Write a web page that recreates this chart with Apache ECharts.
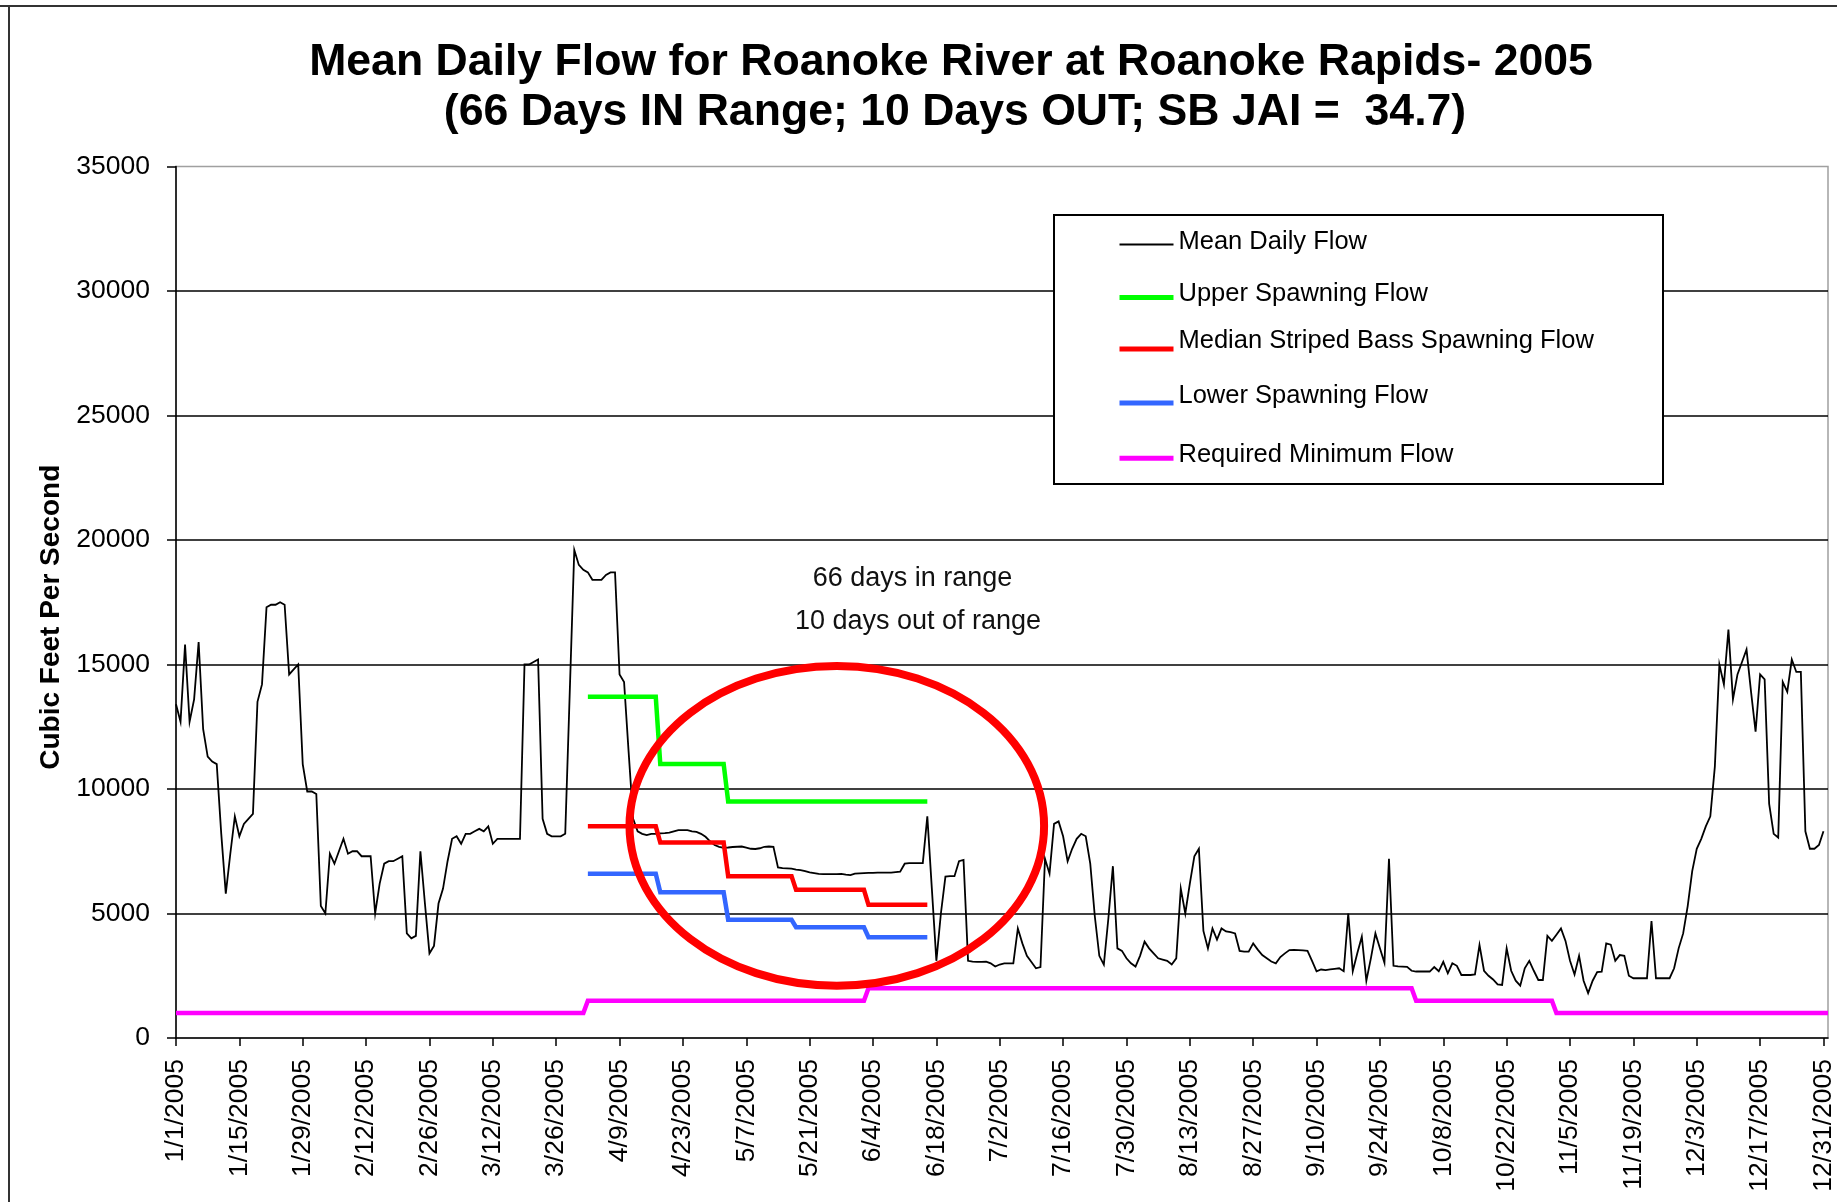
<!DOCTYPE html>
<html>
<head>
<meta charset="utf-8">
<script src="https://cdn.jsdelivr.net/npm/echarts@6/dist/echarts.min.js"></script>
<style>
html,body{margin:0;padding:0;background:#ffffff;}
#chart{width:1837px;height:1202px;}
</style>
</head>
<body>
<div id="chart"></div>
<script>
// ---------------- data ----------------
const titleLines = ['Mean Daily Flow for Roanoke River at Roanoke Rapids- 2005',
                    '(66 Days IN Range; 10 Days OUT; SB JAI =  34.7)'];
const noteLines = ['66 days in range', '10 days out of range'];
const yAxisTitle = 'Cubic Feet Per Second';

const tickLabels = ['1/1/2005','1/15/2005','1/29/2005','2/12/2005','2/26/2005','3/12/2005','3/26/2005',
  '4/9/2005','4/23/2005','5/7/2005','5/21/2005','6/4/2005','6/18/2005','7/2/2005','7/16/2005','7/30/2005',
  '8/13/2005','8/27/2005','9/10/2005','9/24/2005','10/8/2005','10/22/2005','11/5/2005','11/19/2005',
  '12/3/2005','12/17/2005','12/31/2005'];
const tickStepDays = 14;
const yearDays = 365;
const yMin = 0, yMax = 35000, yStep = 5000;

const seriesNames = ['Mean Daily Flow','Upper Spawning Flow','Median Striped Bass Spawning Flow',
                     'Lower Spawning Flow','Required Minimum Flow'];

// one value per day, day 0 = 1/1/2005
const meanDailyFlow = [
  13400,12700,15800,12700,13600,15900,12400,11300,11100,11000,
  8200,5800,7400,8900,8100,8600,8800,9000,13500,14200,
  17300,17400,17400,17500,17400,14600,14800,15000,11000,9900,
  9900,9800,5300,5000,7400,7000,7500,8000,7400,7500,
  7500,7300,7300,7300,5000,6200,7000,7100,7100,7200,
  7300,4200,4000,4100,7500,5400,3400,3700,5400,6000,
  7100,8000,8100,7800,8200,8200,8300,8400,8300,8500,
  7800,8000,8000,8000,8000,8000,8000,15000,15000,15100,
  15200,8800,8200,8100,8100,8100,8200,13900,19600,19000,
  18800,18700,18400,18400,18400,18600,18700,18700,14600,14300,
  11500,8800,8300,8200,8150,8200,8200,8220,8230,8250,
  8300,8350,8350,8350,8300,8280,8200,8080,7900,7750,
  7680,7640,7650,7670,7680,7690,7650,7600,7590,7620,
  7680,7690,7680,6850,6820,6810,6800,6760,6740,6700,
  6650,6620,6590,6580,6580,6580,6580,6590,6560,6540,
  6600,6610,6620,6630,6630,6640,6640,6640,6640,6660,
  6680,7000,7020,7020,7020,7020,8900,6000,3100,5000,
  6480,6500,6500,7100,7150,3100,3070,3060,3060,3070,
  3000,2870,2950,3000,3000,3000,4400,3800,3300,3050,
  2800,2850,7200,6600,8600,8700,8100,7100,7600,8000,
  8200,8100,7000,4900,3300,2950,4800,6900,3600,3500,
  3200,3000,2870,3300,3870,3600,3400,3200,3150,3100,
  2950,3200,6000,5000,6200,7300,7600,4300,3600,4400,
  3950,4400,4280,4250,4200,3500,3470,3470,3800,3550,
  3330,3200,3070,3000,3250,3400,3530,3540,3530,3520,
  3500,3100,2680,2750,2730,2760,2780,2800,2680,5000,
  2680,3400,4070,2300,3200,4200,3600,3020,7200,2900,
  2880,2870,2860,2700,2670,2670,2670,2670,2850,2680,
  3060,2600,3000,2900,2530,2530,2530,2550,3730,2700,
  2500,2350,2150,2130,3600,2700,2300,2100,2800,3100,
  2700,2330,2330,4100,3900,4150,4400,3900,3100,2550,
  3300,2300,1800,2300,2650,2660,3800,3750,3100,3330,
  3300,2500,2400,2400,2400,2400,4700,2400,2400,2400,
  2400,2800,3600,4200,5300,6700,7600,8000,8500,8900,
  10900,15000,14200,16400,13600,14600,15100,15600,13900,12300,
  14600,14400,9400,8200,8050,14300,13900,15200,14700,14700,
  8300,7600,7600,7750,8300
];

// [day, flow] break points of the stepped targets
const upperSpawningFlow  = [[91,13700],[106,13700],[107,11000],[121,11000],[122,9500],[166,9500]];
const medianSpawningFlow = [[91,8500],[106,8500],[107,7850],[121,7850],[122,6500],[136,6500],
                            [137,5950],[152,5950],[153,5350],[166,5350]];
const lowerSpawningFlow  = [[91,6600],[106,6600],[107,5850],[121,5850],[122,4750],[136,4750],
                            [137,4450],[152,4450],[153,4050],[166,4050]];
const requiredMinimumFlow = [[0,1000],[90,1000],[91,1500],[152,1500],[153,2000],[273,2000],
                             [274,1500],[304,1500],[305,1000],[365,1000]];

// highlighted window (data coordinates): centre day / flow and half extents
const circledWindow = {day:146, flow:8520, halfDays:45.8, halfFlow:6420};

// ---------------- chart ----------------
const FONT = '"Liberation Sans", Arial, Helvetica, sans-serif';
const colors = ['#000000','#00ff00','#ff0000','#3366ff','#ff00ff'];
const widths = [1.8, 4.5, 4.5, 4.5, 4.5];

const chart = echarts.init(document.getElementById('chart'), null, {renderer:'canvas'});

const flowPairs = meanDailyFlow.map((v, i) => [i, v]);
const seriesData = [flowPairs, upperSpawningFlow, medianSpawningFlow, lowerSpawningFlow, requiredMinimumFlow];

// legend rows: top of each legend block, spacer height (lifts text above the line sample), icon height
const legendRows = [
  {top:228.5, s:6,  h:2},
  {top:281.3, s:6.6, h:5},
  {top:327.5, s:17, h:5},
  {top:382.5, s:15, h:5},
  {top:442,   s:6.6, h:5}
];

const option = {
  backgroundColor:'#ffffff',
  animation:false,
  title:[
    {text:titleLines[0], left:951, top:37.5, textAlign:'center', padding:0,
     textStyle:{fontFamily:FONT, fontSize:44.6, fontWeight:'bold', color:'#000', lineHeight:50}},
    {text:titleLines[1], left:955, top:87.5, textAlign:'center', padding:0,
     textStyle:{fontFamily:FONT, fontSize:44.6, fontWeight:'bold', color:'#000', lineHeight:50}},
    {text:noteLines[0], left:912.5, top:563.5, textAlign:'center', padding:0,
     textStyle:{fontFamily:FONT, fontSize:27, fontWeight:'normal', color:'#111', lineHeight:30}},
    {text:noteLines[1], left:918, top:607, textAlign:'center', padding:0,
     textStyle:{fontFamily:FONT, fontSize:27, fontWeight:'normal', color:'#111', lineHeight:30}}
  ],
  legend: legendRows.map((r, i) => ({
    data:[{name:seriesNames[i], icon:'rect'}],
    left:1119.5, top:r.top, padding:0,
    itemWidth:54, itemHeight:r.h,
    itemStyle:{borderWidth:0},
    selectedMode:false,
    formatter: name => '{t|' + name + '}\n{s| }',
    textStyle:{fontFamily:FONT, fontSize:25.5, color:'#000',
      rich:{
        t:{fontFamily:FONT, fontSize:25.5, color:'#000', lineHeight:30},
        s:{fontSize:1, lineHeight:r.s}
      }}
  })),
  grid:{left:176, right:9, top:166.5, bottom:164, show:true,
        borderColor:'#a0a0a0', borderWidth:1.5, backgroundColor:'transparent'},
  xAxis:{
    type:'value', min:0, max:yearDays,
    axisLine:{show:true, onZero:false, lineStyle:{color:'#000', width:1.5}},
    axisTick:{show:true, inside:false, length:8, lineStyle:{color:'#000', width:1.5},
              customValues: tickLabels.map((_, k) => k * tickStepDays)},
    axisLabel:{show:true, rotate:90, margin:21, fontFamily:FONT, fontSize:26.5, color:'#000',
               customValues: tickLabels.map((_, k) => k * tickStepDays),
               formatter: v => tickLabels[Math.round(v / tickStepDays)]},
    splitLine:{show:false}
  },
  yAxis:{
    type:'value', min:yMin, max:yMax, interval:yStep,
    name:yAxisTitle, nameLocation:'middle', nameGap:107,
    nameTextStyle:{fontFamily:FONT, fontSize:28, fontWeight:'bold', color:'#000', padding:[0,30,0,0]},
    axisLine:{show:true, lineStyle:{color:'#000', width:1.5}},
    axisTick:{show:true, inside:false, length:9, lineStyle:{color:'#000', width:1.5}},
    axisLabel:{margin:26, fontFamily:FONT, fontSize:26.5, color:'#000', formatter: v => String(v)},
    splitLine:{show:true, showMinLine:false, showMaxLine:false, lineStyle:{color:'#000', width:1.5}}
  },
  series: seriesNames.map((name, i) => ({
    name, type:'line', data:seriesData[i], symbol:'none', showSymbol:false,
    silent:true, z: 2 + i*0.01,
    lineStyle:{color:colors[i], width:widths[i], cap:'butt', join:'miter'},
    itemStyle:{color:colors[i]},
    emphasis:{disabled:true}
  })),
  graphic:[
    {type:'line', z:10, shape:{x1:0, y1:6, x2:1837, y2:6}, style:{stroke:'#333', lineWidth:2}},
    {type:'line', z:10, shape:{x1:9, y1:6, x2:9, y2:1202}, style:{stroke:'#333', lineWidth:2}},
    {type:'rect', z:3, shape:{x:1054, y:215, width:609, height:269},
     style:{fill:'#ffffff', stroke:'#000', lineWidth:2}}
  ]
};
chart.setOption(option);

// red ellipse placed from data coordinates
const c = chart.convertToPixel({gridIndex:0}, [circledWindow.day, circledWindow.flow]);
const e = chart.convertToPixel({gridIndex:0}, [circledWindow.day + circledWindow.halfDays,
                                               circledWindow.flow + circledWindow.halfFlow]);
chart.setOption({
  graphic:[
    {type:'line', z:10, shape:{x1:0, y1:6, x2:1837, y2:6}, style:{stroke:'#333', lineWidth:2}},
    {type:'line', z:10, shape:{x1:9, y1:6, x2:9, y2:1202}, style:{stroke:'#333', lineWidth:2}},
    {type:'rect', z:3, shape:{x:1054, y:215, width:609, height:269},
     style:{fill:'#ffffff', stroke:'#000', lineWidth:2}},
    {type:'ellipse', z:6, shape:{cx:c[0], cy:c[1], rx:e[0]-c[0], ry:c[1]-e[1]},
     style:{fill:'none', stroke:'#ff0000', lineWidth:8}}
  ]
}, {replaceMerge:['graphic']});
</script>
</body>
</html>
